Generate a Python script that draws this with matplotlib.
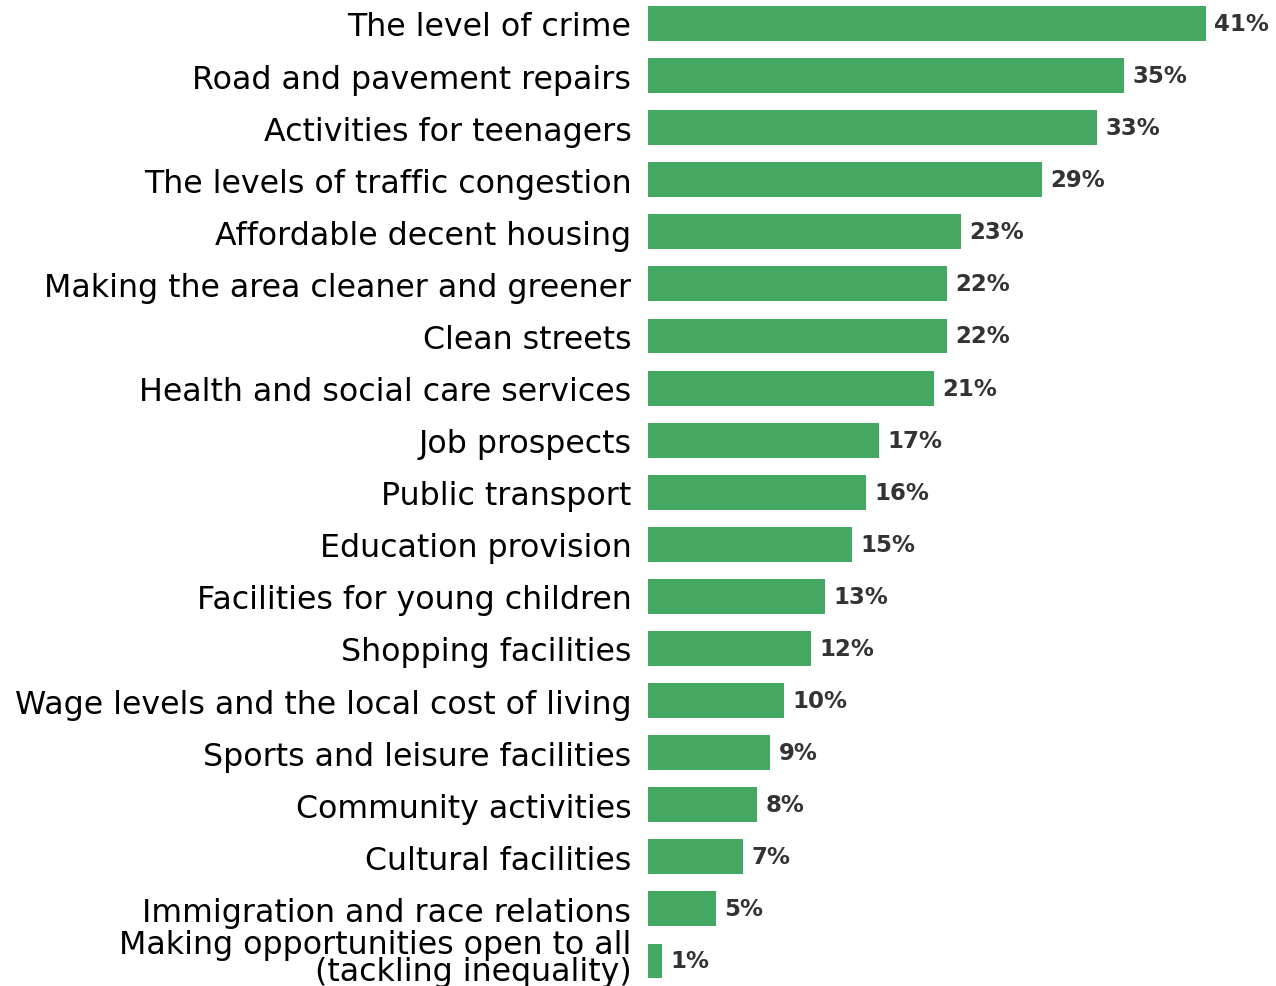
import matplotlib
matplotlib.use("Agg")
import matplotlib.pyplot as plt
from matplotlib.transforms import ScaledTranslation

categories = [
    "The level of crime",
    "Road and pavement repairs",
    "Activities for teenagers",
    "The levels of traffic congestion",
    "Affordable decent housing",
    "Making the area cleaner and greener",
    "Clean streets",
    "Health and social care services",
    "Job prospects",
    "Public transport",
    "Education provision",
    "Facilities for young children",
    "Shopping facilities",
    "Wage levels and the local cost of living",
    "Sports and leisure facilities",
    "Community activities",
    "Cultural facilities",
    "Immigration and race relations",
    "Making opportunities open to all\n(tackling inequality)",
]
values = [41, 35, 33, 29, 23, 22, 22, 21, 17, 16, 15, 13, 12, 10, 9, 8, 7, 5, 1]

BAR_COLOR = "#45A862"
LABEL_COLOR = "#333333"

W, H = 1276, 987
fig = plt.figure(figsize=(W / 100, H / 100), dpi=100)
ax_left = 648 / W
ax_width = (45 * 13.6) / W
ax = fig.add_axes([ax_left, 0.0, ax_width, 1.0])

ypos = list(range(len(categories)))
ax.barh(ypos, values, height=0.67, color=BAR_COLOR, edgecolor="none")

ax.set_xlim(0, 45)
ax.set_ylim(18.48, -0.47)

ax.set_yticks(ypos)
ax.set_yticklabels(categories, fontsize=22.8, fontfamily="DejaVu Sans", color="black")
ax.tick_params(axis="y", length=0, pad=12)
ax.set_xticks([])

# two-line label: tighter leading, nudged up so it stays inside the figure
last = ax.get_yticklabels()[-1]
last.set_linespacing(0.8)
last.set_transform(last.get_transform() + ScaledTranslation(0, 4 / 100, fig.dpi_scale_trans))

for s in ax.spines.values():
    s.set_visible(False)

for y, v in zip(ypos, values):
    ax.annotate(f"{v}%", xy=(v, y), xytext=(6, 0), textcoords="offset points",
                ha="left", va="center", fontsize=16.5, fontweight="bold",
                color=LABEL_COLOR, fontfamily="DejaVu Sans")

fig.savefig("out.png", dpi=100)
